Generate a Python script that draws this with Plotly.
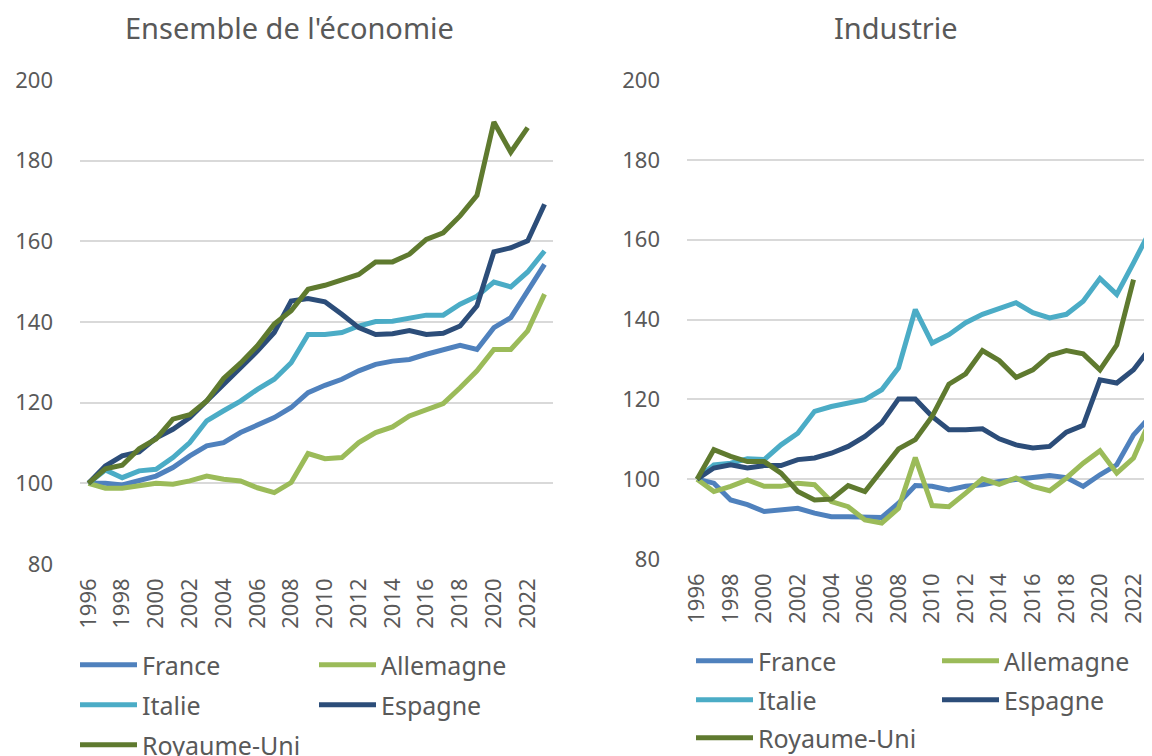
import plotly.graph_objects as go

years = list(range(1996, 2024))
tick_years = years[::2]
tick_labels = [str(y) for y in tick_years]

countries = ["France", "Allemagne", "Italie", "Espagne", "Royaume-Uni"]
colors = ["#4F81BD", "#9BBB59", "#4BACC6", "#2C4D79", "#5F7A2F"]

# Ensemble de l'économie
fr_all = [100, 100.0, 99.6, 100.6, 101.8, 103.9, 106.8, 109.3, 110.1, 112.6, 114.6, 116.3, 118.8, 122.5,
          124.3, 125.8, 127.9, 129.5, 130.3, 130.7, 132.0, 133.2, 134.2, 133.2, 138.6, 141.1, 147.7, 154.3]
de_all = [100, 98.8, 98.8, 99.5, 100.0, 99.8, 100.6, 101.8, 101.0, 100.6, 98.9, 97.7, 100.2, 107.4,
          106.1, 106.4, 110.1, 112.6, 114.0, 116.7, 118.3, 119.8, 123.7, 127.9, 133.2, 133.2, 137.8, 146.9]
it_all = [100, 103.3, 101.4, 103.1, 103.5, 106.4, 110.1, 115.5, 118.0, 120.4, 123.3, 125.8, 129.9, 136.9,
          136.9, 137.4, 139.0, 140.1, 140.2, 141.1, 141.7, 141.7, 144.4, 146.4, 149.9, 148.7, 152.4, 157.6]
es_all = [100, 104.3, 106.8, 107.8, 111.2, 113.4, 116.3, 120.4, 124.5, 128.7, 132.8, 137.4, 145.2, 145.8,
          145.0, 141.9, 138.6, 136.9, 137.1, 137.9, 136.9, 137.2, 139.0, 144.0, 157.4, 158.4, 160.1, 169.2]
ru_all = [100, 103.6, 104.5, 108.6, 111.0, 115.9, 117.0, 120.4, 126.0, 129.8, 134.1, 139.5, 142.8, 148.1,
          149.1, 150.6, 151.8, 154.9, 154.9, 156.8, 160.5, 162.1, 166.3, 171.4, 189.6, 182.1, 188.2, None]

# Industrie
fr_ind = [100, 99.0, 94.8, 93.6, 91.9, 92.3, 92.7, 91.5, 90.6, 90.6, 90.4, 90.4, 94.0, 98.4,
          98.2, 97.3, 98.2, 98.6, 99.4, 100.0, 100.3, 100.9, 100.4, 98.2, 101.1, 103.6, 111.1, 115.7]
de_ind = [100, 96.9, 98.2, 99.8, 98.2, 98.2, 99.0, 98.6, 94.4, 93.1, 89.8, 89.0, 92.7, 105.4,
          93.4, 93.1, 96.5, 100.1, 98.7, 100.3, 98.2, 97.1, 100.3, 104.0, 107.1, 101.5, 105.3, 114.9]
it_ind = [100, 103.6, 104.0, 105.1, 104.9, 108.6, 111.5, 117.0, 118.2, 119.2, 119.9, 122.4, 127.9, 142.5,
          134.1, 136.2, 139.2, 141.3, 142.8, 144.2, 141.7, 140.4, 141.3, 144.6, 150.3, 146.3, 154.2, 162.3]
es_ind = [100, 102.8, 103.6, 102.8, 103.4, 103.4, 104.9, 105.3, 106.5, 108.2, 110.7, 114.1, 120.1, 120.1,
          115.7, 112.4, 112.4, 112.6, 110.1, 108.6, 107.8, 108.2, 111.8, 113.5, 124.9, 124.1, 127.4, 132.9]
ru_ind = [100, 107.4, 105.7, 104.4, 104.4, 101.5, 96.9, 94.8, 95.0, 98.4, 96.9, 102.3, 107.6, 109.9,
          115.7, 123.8, 126.4, 132.2, 129.7, 125.5, 127.4, 131.0, 132.2, 131.4, 127.4, 133.6, 150.0, None]

panel_titles = ["Ensemble de l'économie", "Industrie"]
left_series = [fr_all, de_all, it_all, es_all, ru_all]
right_series = [fr_ind, de_ind, it_ind, es_ind, ru_ind]
left_legends = ["legend", "legend", "legend2", "legend2", "legend3"]
right_legends = ["legend4", "legend4", "legend5", "legend5", "legend6"]

FONT = "Noto Sans"
GREY = "#595959"
OFF = 8                      # page body margin
W, H = 1152 - OFF, 756 - OFF

fig = go.Figure()
for name, col, vals, lg in zip(countries, colors, left_series, left_legends):
    fig.add_trace(go.Scatter(x=years, y=vals, name=name, mode="lines",
                             line=dict(color=col, width=5), legend=lg,
                             xaxis="x", yaxis="y", connectgaps=False))
for name, col, vals, lg in zip(countries, colors, right_series, right_legends):
    fig.add_trace(go.Scatter(x=years, y=vals, name=name, mode="lines",
                             line=dict(color=col, width=5), legend=lg,
                             xaxis="x2", yaxis="y2", connectgaps=False))

def px_x(p):
    return (p - OFF) / W

def px_y(p):
    return 1 - (p - OFF) / H

xcommon = dict(tickmode="array", tickvals=tick_years, ticktext=tick_labels, tickangle=-90,
               showgrid=False, zeroline=False, showline=False, ticks="", ticklabelstandoff=9,
               tickfont=dict(family=FONT, size=22, color=GREY))
ycommon = dict(range=[80, 200], dtick=20, tick0=80, showgrid=True, gridcolor="#D9D9D9", gridwidth=1.5,
               zeroline=False, showline=False, ticks="", ticklabelstandoff=26,
               tickfont=dict(family=FONT, size=22, color=GREY))

fig.update_layout(
    width=W, height=H,
    margin=dict(l=0, r=0, t=0, b=0, autoexpand=False),
    paper_bgcolor="white", plot_bgcolor="white",
    font=dict(family=FONT, color=GREY),
    xaxis=dict(domain=[px_x(80), px_x(553)], range=[1995.5, 2023.5], anchor="y", **xcommon),
    yaxis=dict(domain=[px_y(564), px_y(80)], anchor="x", **ycommon),
    xaxis2=dict(domain=[px_x(687), 1.0], range=[1995.4, 2023.1], anchor="y2", **xcommon),
    yaxis2=dict(domain=[px_y(559), px_y(80)], anchor="x2", **ycommon),
    annotations=[
        dict(text=panel_titles[0], x=px_x(289), y=px_y(28), xref="paper", yref="paper",
             showarrow=False, xanchor="center", yanchor="middle",
             font=dict(family=FONT, size=29, color=GREY)),
        dict(text=panel_titles[1], x=px_x(896), y=px_y(28), xref="paper", yref="paper",
             showarrow=False, xanchor="center", yanchor="middle",
             font=dict(family=FONT, size=29, color=GREY)),
    ],
    showlegend=True,
)

def legend_cfg(xp, yp, ew):
    return dict(orientation="h", x=px_x(xp), y=px_y(yp), xanchor="left", yanchor="middle",
                bgcolor="rgba(0,0,0,0)", borderwidth=0, itemwidth=57, entrywidth=ew,
                font=dict(family=FONT, size=25, color=GREY), itemclick=False, itemdoubleclick=False)

fig.update_layout(
    legend=legend_cfg(75, 665, 167),
    legend2=legend_cfg(75, 705, 167),
    legend3=legend_cfg(75, 745, 167),
    legend4=legend_cfg(691, 661, 174),
    legend5=legend_cfg(691, 700, 174),
    legend6=legend_cfg(691, 738, 174),
)

fig.write_html("out.html")
